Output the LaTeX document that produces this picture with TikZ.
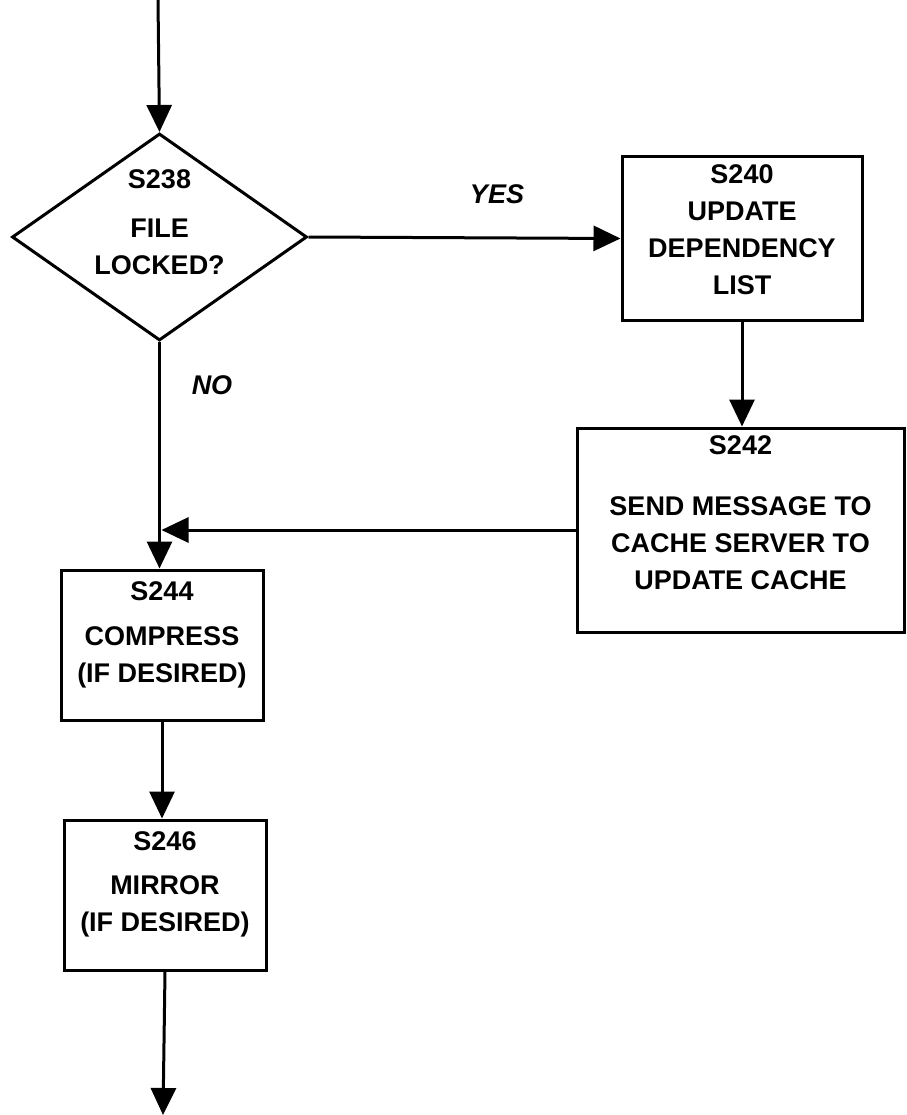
\documentclass[tikz,border=0pt]{standalone}
\usepackage{fontspec}
\setmainfont{Liberation Sans}
\usetikzlibrary{positioning,arrows.meta,shapes.geometric}

\begin{document}
\begin{tikzpicture}[x=1pt,y=-1pt,
	stepbox/.style={draw,line width=3pt,inner sep=0pt},
	steptext/.style={align=center,inner sep=0pt,font=\bfseries\fontsize{27}{37}\selectfont},
	answer/.style={inner sep=0pt,font=\bfseries\itshape\fontsize{27}{32}\selectfont},
	flow/.style={line width=3pt,-{Triangle[length=27pt,width=25pt]}}]
	\useasboundingbox (0,0) rectangle (906,1115);
	\coordinate (in) at (158,0);
	\node[stepbox,diamond,minimum width=295pt,minimum height=207pt] (d238) at (159.5,237) {};
	\node[stepbox,minimum width=240pt,minimum height=163pt] (s240) at (742,238.5) {};
	\node[stepbox,minimum width=327pt,minimum height=204pt] (s242) at (740.5,530) {};
	\node[stepbox,minimum width=202pt,minimum height=150pt] (s244) at (162,645) {};
	\node[stepbox,minimum width=202pt,minimum height=150pt] (s246) at (165,895) {};
	\coordinate (out) at (163,1115);

	% texts
	\node[steptext,below=37pt of d238.north] (t238) {S238\\[12pt]FILE\\LOCKED?};
	\node[steptext,below=9pt of s240.north] (t240) {S240\\UPDATE\\DEPENDENCY\\LIST};
	\node[steptext,below=9pt of s242.north] (t242) {S242\\[24pt]SEND MESSAGE TO\\CACHE SERVER TO\\UPDATE CACHE};
	\node[steptext,below=13pt of s244.north] (t244) {S244\\[8pt]COMPRESS\\(IF DESIRED)};
	\node[steptext,below=13pt of s246.north] (t246) {S246\\[7pt]MIRROR\\(IF DESIRED)};
	\node[answer] (yes) at (497,194) {YES};
	\node[answer] (no) at (212,385) {NO};

	\draw[flow] (in) -- (d238.north);
	\draw[flow] (d238.east) -- (s240.west);
	\draw[flow] (s240.south) -- (s240.south |- s242.north);
	\draw[flow] (d238.south) -- (d238.south |- s244.north);
	\draw[flow] (s242.west) -- ([xshift=2pt]d238.south |- s242.west);
	\draw[flow] (s244.south) -- (s244.south |- s246.north);
	\draw[flow] (s246.south) -- (out);
\end{tikzpicture}
\end{document}
